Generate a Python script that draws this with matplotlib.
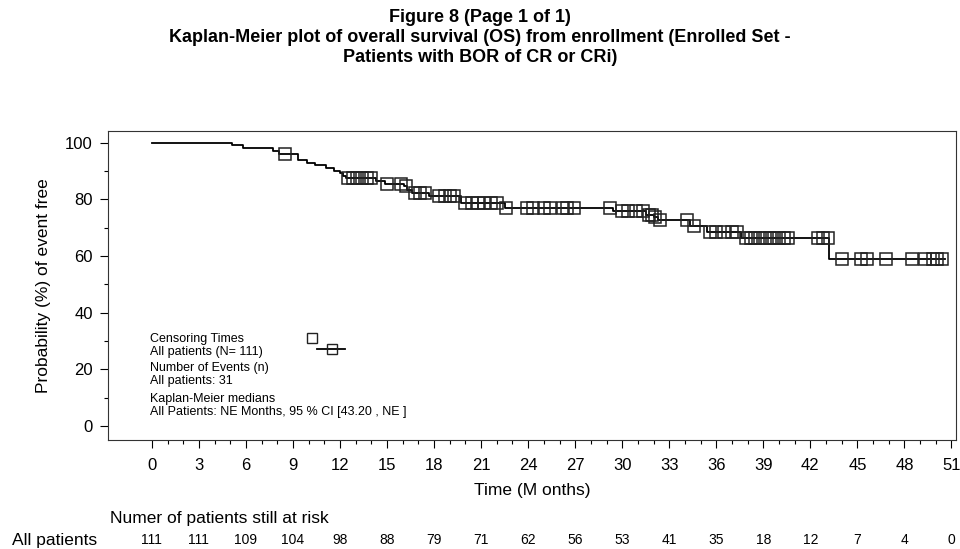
import numpy as np
import matplotlib.pyplot as plt
from matplotlib.ticker import MultipleLocator, FixedLocator

plt.rcParams["font.family"] = ["Liberation Sans", "DejaVu Sans"]

# KM step curve (months, % event free)
event_times = [0, 5.1, 5.8, 7.7, 8.1, 9.3, 9.9, 10.4, 11.1, 11.6, 12.0, 12.2, 12.4,
               14.3, 14.9, 16.1, 16.3, 16.6, 17.7, 19.7, 22.5, 29.4, 31.5, 32.0,
               32.3, 34.3, 35.4, 37.6, 43.2]
event_surv = [100, 99.1, 98.2, 97.0, 95.8, 93.9, 92.9, 92.0, 91.0, 90.1, 89.1, 88.3, 87.4,
              86.4, 85.5, 84.5, 83.4, 82.2, 81.0, 78.6, 76.9, 75.7, 74.6, 73.6,
              72.8, 70.7, 68.6, 66.4, 59.0]
last_time = 50.6

censor_times = [8.5, 12.5, 12.8, 13.1, 13.4, 13.7, 14.0, 15.0, 15.9, 16.2, 16.8, 17.1,
                17.4, 18.3, 18.7, 19.0, 19.3, 20.0, 20.4, 20.8, 21.2, 21.6, 22.0,
                22.6, 23.9, 24.3, 25.0, 25.4, 26.2, 26.5, 26.9, 29.2, 30.0, 30.4,
                30.9, 31.3, 31.7, 31.9, 32.1, 32.4, 34.1, 34.6, 35.6, 36.0, 36.5,
                37.0, 37.3, 37.9, 38.2, 38.5, 38.8, 39.1, 39.4, 39.7, 40.0, 40.3,
                40.6, 42.5, 42.8, 43.1, 44.0, 45.2, 45.6, 46.8, 48.5, 49.3, 49.8,
                50.1, 50.4]

risk_times = list(range(0, 52, 3))
risk_counts = [111, 111, 109, 104, 98, 88, 79, 71, 62, 56, 53, 41, 35, 18, 12, 7, 4, 0]

title_lines = ["Figure 8 (Page 1 of 1)",
               "Kaplan-Meier plot of overall survival (OS) from enrollment (Enrolled Set -",
               "Patients with BOR of CR or CRi)"]

legend_lines = ["Censoring Times", "All patients (N= 111)", "Number of Events (n)",
                "All patients: 31", "Kaplan-Meier medians",
                "All Patients: NE Months, 95 % CI [43.20 , NE ]"]

fig = plt.figure(figsize=(9.6, 5.49), dpi=100)
ax = fig.add_axes([0.1125, 0.1985, 0.8835, 0.5625])

# curve
xs = list(event_times) + [last_time]
ys = list(event_surv) + [event_surv[-1]]
ax.step(xs, ys, where="post", color="black", lw=1.3)

# censoring marks sit on the curve
idx = np.searchsorted(event_times, censor_times, side="right") - 1
censor_y = np.array(event_surv)[idx]
ax.plot(censor_times, censor_y, ls="none", marker="s", ms=8.6, mfc="none",
        mec="#222222", mew=1.1)

ax.set_xlim(-2.8, 51.3)
ax.set_ylim(-5, 104)
ax.xaxis.set_major_locator(MultipleLocator(3))
ax.xaxis.set_minor_locator(FixedLocator(range(0, 52)))
ax.yaxis.set_major_locator(MultipleLocator(20))
ax.yaxis.set_minor_locator(MultipleLocator(10))
ax.set_yticks([0, 20, 40, 60, 80, 100])
ax.tick_params(which="major", direction="out", length=6, width=0.8, labelsize=12, pad=5)
ax.tick_params(which="minor", direction="out", length=3, width=0.8)
ax.tick_params(axis="x", which="major", pad=7)
for s in ax.spines.values():
    s.set_linewidth(0.8)
    s.set_color("#333333")

ax.set_xlabel("Time (M onths)", fontsize=12.5, labelpad=7)
ax.set_ylabel("Probability (%) of event free", fontsize=12.5, labelpad=10)

# legend block inside the axes
leg_font = ["Liberation Sans Narrow", "Liberation Sans", "DejaVu Sans"]
for line, yy in zip(legend_lines, [339, 352, 368, 381, 399, 412]):
    fig.text(150.5 / 960, 1 - yy / 549, line, fontsize=9, family=leg_font,
             ha="left", va="center")
ax.plot([10.2], [31.0], ls="none", marker="s", ms=7, mfc="none", mec="#222222", mew=1.0,
        clip_on=False)
ax.plot([10.5, 12.3], [27.3, 27.3], color="black", lw=1.3)
ax.plot([11.5], [27.3], ls="none", marker="s", ms=7, mfc="none", mec="#222222", mew=1.0)

# title
for line, yy in zip(title_lines, [17, 37, 57]):
    fig.text(0.5, 1 - yy / 549, line, fontsize=13, fontweight="bold",
             ha="center", va="center")

# risk table
fig.text(110 / 960, 1 - 519 / 549, "Numer of patients still at risk", fontsize=12.5,
         ha="left", va="center")
fig.text(12 / 960, 1 - 540 / 549, "All patients", fontsize=12.5, ha="left", va="center")
trans = ax.get_xaxis_transform()
for t, n in zip(risk_times, risk_counts):
    ax.text(t, (540 - 440) / -309.0, str(n), transform=trans, fontsize=10,
            family=leg_font, ha="center", va="center", clip_on=False)

fig.savefig("out.png", dpi=100)
